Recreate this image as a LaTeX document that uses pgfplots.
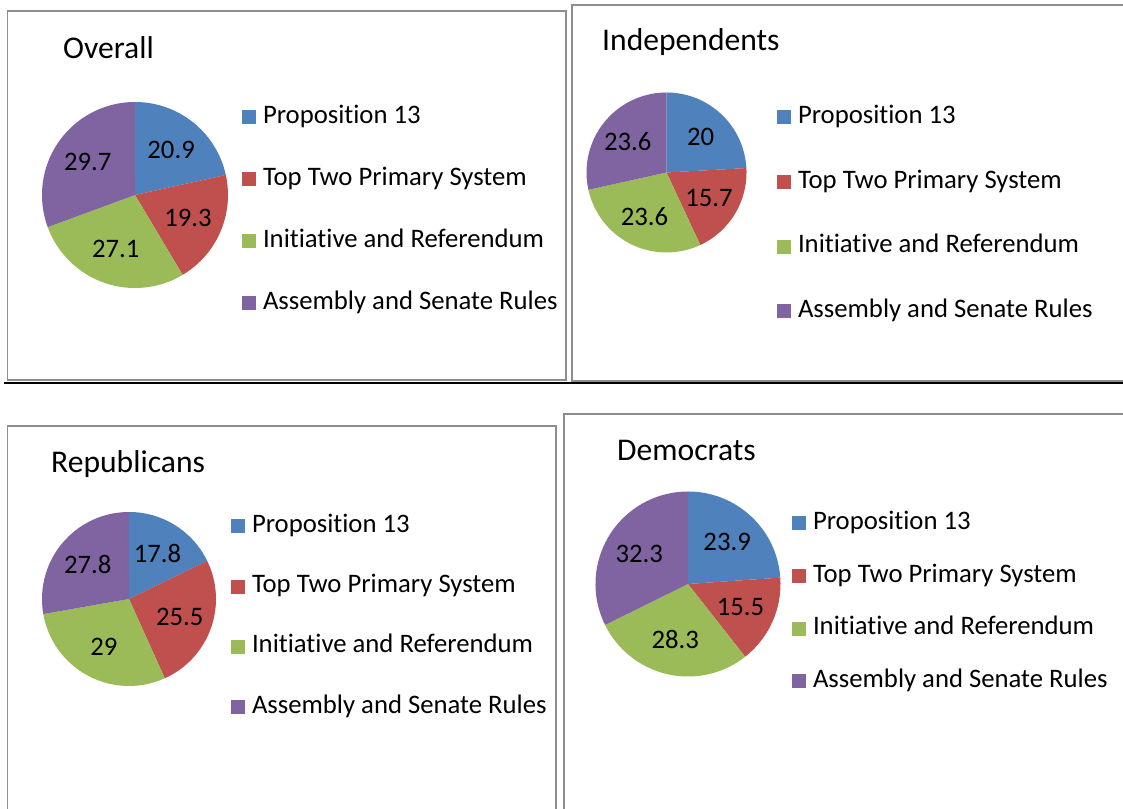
\documentclass[border=0pt]{standalone}
\usepackage{fontspec}
\setmainfont{Carlito}[Ligatures=NoCommon]
\usepackage{pgfplots}
\usepackage{pgfplotstable}
\pgfplotsset{compat=1.18}

\definecolor{pblue}{HTML}{4F81BD}
\definecolor{pred}{HTML}{C0504D}
\definecolor{pgreen}{HTML}{9BBB59}
\definecolor{ppurple}{HTML}{8064A2}
\definecolor{framegray}{HTML}{8E8E8E}

\newcommand\legendfont{\fontsize{26.7}{30}\selectfont}
\newcommand\labelfont{\fontsize{26.7}{30}\selectfont}
\newcommand\titlefont{\fontsize{31.6}{36}\selectfont}

% values of each pie, clockwise from 12 o'clock
\pgfplotstableread{
v
20.9
19.3
27.1
29.7
}\overall
\pgfplotstableread{
v
20
15.7
23.6
23.6
}\independents
\pgfplotstableread{
v
17.8
25.5
29
27.8
}\republicans
\pgfplotstableread{
v
23.9
15.5
28.3
32.3
}\democrats

\newcommand\pieslice[5]{% start, end, colour, label, radius
  \pgfmathsetmacro\midang{(#1+#2)/2}%
  \edef\tmpslice{%
    \noexpand\fill[#3] (axis cs:0,0) -- (axis cs:{#5*cos(#1)},{#5*sin(#1)})
      arc[start angle=#1, end angle=#2, radius=#5pt] -- cycle;
    \noexpand\node[font=\noexpand\labelfont, inner sep=0pt]
      at (axis cs:{0.62*#5*cos(\midang)},{0.62*#5*sin(\midang)}) {#4};
  }\tmpslice
}
\newcommand\drawpie[2]{% table, radius
  \pgfplotstablegetelem{0}{v}\of{#1}\let\va\pgfplotsretval
  \pgfplotstablegetelem{1}{v}\of{#1}\let\vb\pgfplotsretval
  \pgfplotstablegetelem{2}{v}\of{#1}\let\vc\pgfplotsretval
  \pgfplotstablegetelem{3}{v}\of{#1}\let\vd\pgfplotsretval
  \pgfmathsetmacro\tot{\va+\vb+\vc+\vd}%
  \pgfmathsetmacro\angA{90}%
  \pgfmathsetmacro\angB{90-360*\va/\tot}%
  \pgfmathsetmacro\angC{\angB-360*\vb/\tot}%
  \pgfmathsetmacro\angD{\angC-360*\vc/\tot}%
  \pgfmathsetmacro\angE{-270}%
  \edef\tmppie{%
    \noexpand\pieslice{\angA}{\angB}{pblue}{\va}{#2}%
    \noexpand\pieslice{\angB}{\angC}{pred}{\vb}{#2}%
    \noexpand\pieslice{\angC}{\angD}{pgreen}{\vc}{#2}%
    \noexpand\pieslice{\angD}{\angE}{ppurple}{\vd}{#2}%
  }\tmppie
}

\pgfplotsset{
  pieaxis/.style={
    anchor=center, x=1pt, y=1pt,
    hide axis, clip=false,
    legend image code/.code={\fill[##1] (0pt,-7pt) rectangle (14pt,7pt);},
    legend cell align=left,
    legend style={draw=none, fill=none, inner sep=0pt, outer sep=0pt,
      anchor=north west, font=\legendfont,
      nodes={inner sep=0pt, text height=19pt, text depth=7pt},
      /tikz/every odd column/.append style={column sep=7pt}},
  },
}
\newcommand\pielegend{%
  \addlegendimage{fill=pblue, draw=none}
  \addlegendentry{Proposition 13}
  \addlegendimage{fill=pred, draw=none}
  \addlegendentry{Top Two Primary System}
  \addlegendimage{fill=pgreen, draw=none}
  \addlegendentry{Initiative and Referendum}
  \addlegendimage{fill=ppurple, draw=none}
  \addlegendentry{Assembly and Senate Rules}
}

\begin{document}
\begin{tikzpicture}[x=1pt, y=1pt]
\useasboundingbox (0,0) rectangle (1123,808);
\fill[white] (0,0) rectangle (1123,808);

% frames
\draw[framegray, line width=1.8pt] (7.5,797) rectangle (566,428);
\draw[framegray, line width=1.8pt] (572,803) rectangle (1130,427);
\draw[framegray, line width=1.8pt] (7.5,382) rectangle (556,-5);
\draw[framegray, line width=1.8pt] (564,394) rectangle (1130,-5);
\draw[black, line width=2.6pt] (4,425) -- (1123,425);

% titles
\node[anchor=base west, font=\titlefont, inner sep=0pt] at (63,749) {Overall};
\node[anchor=base west, font=\titlefont, inner sep=0pt] at (602,757) {Independents};
\node[anchor=base west, font=\titlefont, inner sep=0pt] at (51,335) {Republicans};
\node[anchor=base west, font=\titlefont, inner sep=0pt] at (617,347) {Democrats};

% Overall
\begin{axis}[pieaxis, at={(135pt,613pt)},
  xmin=-93, xmax=93, ymin=-93, ymax=93,
  legend style={at={(axis cs:107,90.6)}, row sep=36pt}]
  \drawpie{\overall}{93}
  \pielegend
\end{axis}

% Independents
\begin{axis}[pieaxis, at={(666.5pt,635.5pt)},
  xmin=-80, xmax=80, ymin=-80, ymax=80,
  legend style={at={(axis cs:110.5,68.1)}, row sep=38.7pt}]
  \drawpie{\independents}{80}
  \pielegend
\end{axis}

% Republicans
\begin{axis}[pieaxis, at={(129pt,209pt)},
  xmin=-87, xmax=87, ymin=-87, ymax=87,
  legend style={at={(axis cs:102,85.6)}, row sep=34.3pt}]
  \drawpie{\republicans}{87}
  \pielegend
\end{axis}

% Democrats
\begin{axis}[pieaxis, at={(688pt,224pt)},
  xmin=-92.5, xmax=92.5, ymin=-92.5, ymax=92.5,
  legend style={at={(axis cs:104,73.6)}, row sep=26.7pt}]
  \drawpie{\democrats}{92.5}
  \pielegend
\end{axis}
\end{tikzpicture}
\end{document}
